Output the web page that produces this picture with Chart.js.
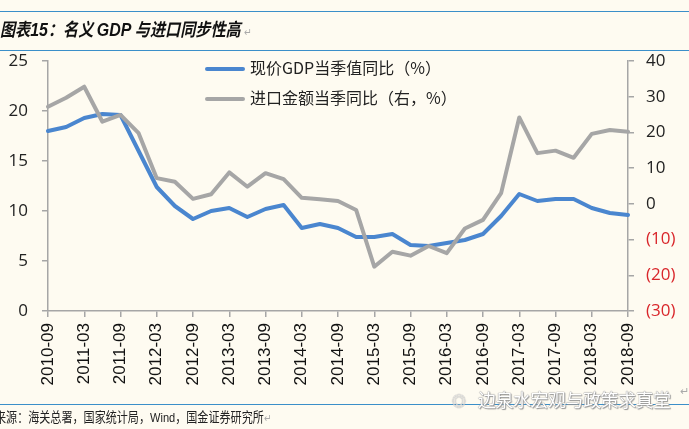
<!DOCTYPE html>
<html>
<head>
<meta charset="utf-8">
<script src="https://cdn.jsdelivr.net/npm/chart.js@4/dist/chart.umd.min.js"></script>
<style>
  html, body { margin: 0; padding: 0; }
  body { width: 689px; height: 429px; background: #fefbf1; position: relative; overflow: hidden;
         font-family: "Noto Sans CJK SC", "Liberation Sans", sans-serif; }
  #chart { position: absolute; left: 0; top: 0; }
  .rule { position: absolute; left: 0; width: 689px; height: 1px; background: #3b8fc9; }
  .title { position: absolute; left: 0; top: 15px; font-size: 18px; font-weight: bold; font-style: italic;
           color: #111; white-space: nowrap; transform: scaleX(0.84); transform-origin: left center; }
  .title .lat { font-family: "Liberation Sans", sans-serif; font-size: 19px; }
  .ret { color: #aaa; font-size: 11px; font-style: normal; font-weight: normal; }
  .legend { position: absolute; left: 205px; font-size: 16px; color: #222; white-space: nowrap; }
  .legend i { display: inline-block; width: 40px; height: 4px; vertical-align: middle; margin-right: 5px;
              border-radius: 2px; position: relative; top: -1px; }
  .source { position: absolute; left: -5px; top: 406px; font-size: 13.5px; color: #222; white-space: nowrap;
            transform: scaleX(0.82); transform-origin: left center; }
  .source .lat { font-family: "Liberation Sans", sans-serif; }
  .mark { position: absolute; left: 478px; top: 386px; font-size: 18px; color: #fff; white-space: nowrap;
          text-shadow: 0 0 1px #888, 0 0 1px #888, 1px 1px 1px #999; letter-spacing: -0.5px; }
  .wx { position: absolute; left: 452px; top: 390px; font-size: 14px; color: #fff;
        text-shadow: 0 0 1px #888, 0 0 1px #888; }
</style>
</head>
<body>
<canvas id="chart" width="689" height="429"></canvas>
<div class="rule" style="top:11px"></div>
<div class="rule" style="top:50px"></div>
<div class="rule" style="top:404px"></div>
<div class="title">图表<span class="lat">15</span>：名义 <span class="lat">GDP</span> 与进口同步性高 <span class="ret">↵</span></div>
<div class="legend" style="top:55px"><i style="background:#4a86cf"></i>现价GDP当季值同比（%）</div>
<div class="legend" style="top:85px"><i style="background:#a6a6a6"></i>进口金额当季同比（右，%）</div>
<div class="wx">◎</div>
<div class="mark">边泉水宏观与政策求真堂</div>
<div class="source">来源：海关总署，国家统计局，<span class="lat">Wind</span>，国金证券研究所<span class="ret">↵</span></div>
<div class="ret" style="position:absolute;left:680px;top:382px">↵</div>
<script>
// 季度标签（每两个季度显示一个）
const quarters = [
  '2010-09', '2010-12', '2011-03', '2011-06', '2011-09', '2011-12',
  '2012-03', '2012-06', '2012-09', '2012-12', '2013-03', '2013-06',
  '2013-09', '2013-12', '2014-03', '2014-06', '2014-09', '2014-12',
  '2015-03', '2015-06', '2015-09', '2015-12', '2016-03', '2016-06',
  '2016-09', '2016-12', '2017-03', '2017-06', '2017-09', '2017-12',
  '2018-03', '2018-06', '2018-09'
];

// 现价GDP当季值同比（%），左轴
const gdpYoY = [18.0, 18.4, 19.3, 19.7, 19.6, 16.0, 12.4, 10.5, 9.2, 10.0, 10.3,
  9.4, 10.2, 10.6, 8.3, 8.7, 8.3, 7.4, 7.4, 7.7, 6.6, 6.5, 6.8, 7.1, 7.7, 9.5,
  11.7, 11.0, 11.2, 11.2, 10.3, 9.8, 9.6];

// 进口金额当季同比（右，%）
const importYoY = [27.2, 29.7, 32.8, 23.0, 24.9, 19.8, 7.2, 6.2, 1.4, 2.7, 8.8,
  4.8, 8.6, 6.9, 1.7, 1.3, 0.8, -1.7, -17.6, -13.4, -14.5, -11.8, -13.8, -6.9,
  -4.5, 3.0, 24.2, 14.2, 14.9, 12.9, 19.6, 20.7, 20.2];

const axisGray = '#a6a6a6';

const ctx = document.getElementById('chart').getContext('2d');
new Chart(ctx, {
  type: 'line',
  data: {
    labels: quarters,
    datasets: [{
      label: '现价GDP当季值同比（%）',
      data: gdpYoY,
      yAxisID: 'yLeft',
      borderColor: '#4a86cf',
      borderWidth: 4,
      order: 1
    }, {
      label: '进口金额当季同比（右，%）',
      data: importYoY,
      yAxisID: 'yRight',
      borderColor: '#a6a6a6',
      borderWidth: 4,
      order: 0
    }]
  },
  options: {
    responsive: false,
    animation: false,
    events: [],
    layout: { padding: { top: 61, left: 0, right: 6, bottom: 33 } },
    elements: {
      point: { radius: 0 },
      line: { tension: 0, borderJoinStyle: 'round', borderCapStyle: 'round' }
    },
    plugins: {
      legend: { display: false },
      tooltip: { enabled: false }
    },
    scales: {
      x: {
        offset: false,
        afterFit: s => { s.height = 85; },
        grid: { drawOnChartArea: false, color: axisGray, tickLength: 6, lineWidth: 1.5 },
        border: { color: axisGray, width: 1.5 },
        ticks: {
          autoSkip: false,
          maxRotation: 90,
          minRotation: 90,
          padding: 6,
          color: '#111',
          font: { family: 'Liberation Sans', size: 17 },
          callback: function (val, idx) {
            return idx % 2 === 0 ? this.getLabelForValue(val) : null;
          }
        }
      },
      yLeft: {
        position: 'left',
        min: 0,
        max: 25,
        afterFit: s => { s.width = 48; },
        grid: { drawOnChartArea: false, color: axisGray, tickLength: 6, lineWidth: 1.5 },
        border: { color: axisGray, width: 1.5 },
        ticks: {
          stepSize: 5,
          padding: 14,
          color: '#222',
          font: { family: 'Open Sans', size: 17 }
        }
      },
      yRight: {
        position: 'right',
        min: -30,
        max: 40,
        afterFit: s => { s.width = 55; },
        grid: { drawOnChartArea: false, color: axisGray, tickLength: 6, lineWidth: 1.5 },
        border: { color: axisGray, width: 1.5 },
        ticks: {
          stepSize: 10,
          padding: 12,
          font: { family: 'Open Sans', size: 17 },
          color: c => (c.tick && c.tick.value < 0 ? '#d9262b' : '#222'),
          callback: v => (v < 0 ? '(' + (-v) + ')' : v)
        }
      }
    }
  }
});
</script>
</body>
</html>
